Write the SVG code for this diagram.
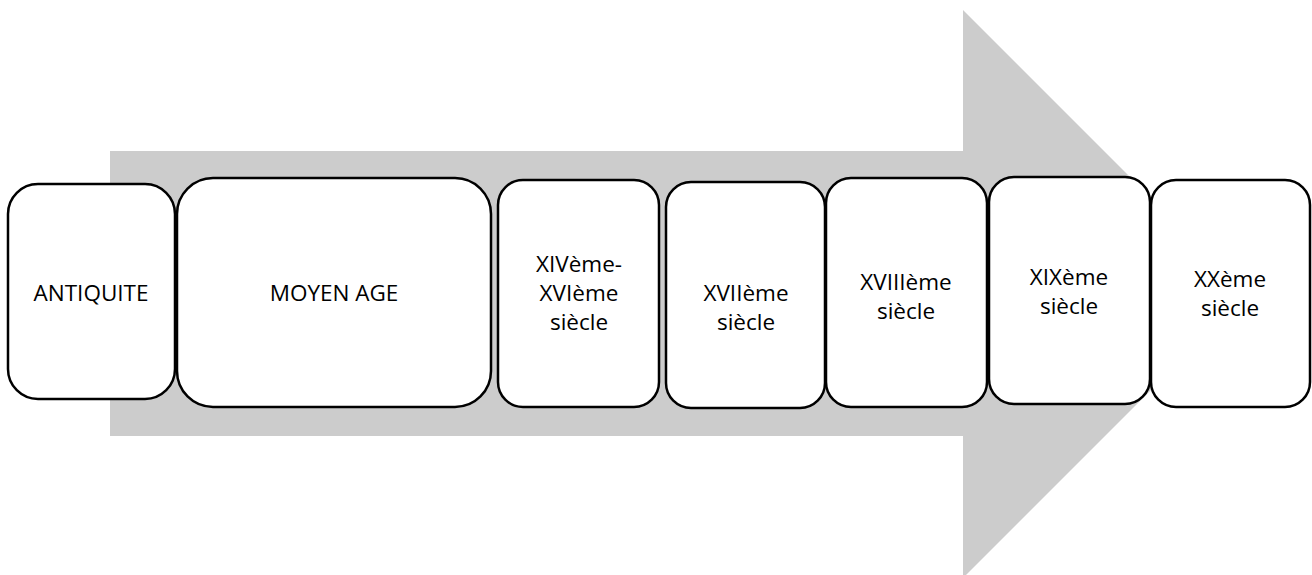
<svg xmlns="http://www.w3.org/2000/svg" width="1312" height="575" viewBox="0 0 1312 575">
<style>
.box{fill:#ffffff;stroke:#000000;stroke-width:2.5}
.lbl{font-family:"Open Sans","Noto Sans","Liberation Sans",sans-serif;font-size:22.5px;fill:#000000;text-anchor:middle}
</style>
<rect width="1312" height="575" fill="#ffffff"/>
<g id="arrow">
<polygon points="110,151 963,151 963,10 1247,294 963,578 963,436 110,436" fill="#cccccc"/>
</g>
<g id="connectors"></g>
<g id="n1"><rect class="box" x="8" y="184" width="167" height="215" rx="30"/><text class="lbl" x="91" y="301">ANTIQUITE</text></g>
<g id="n2"><rect class="box" x="177" y="178" width="314" height="229" rx="36"/><text class="lbl" x="334" y="301">MOYEN AGE</text></g>
<g id="n3"><rect class="box" x="498" y="180" width="161" height="227" rx="25"/><text class="lbl" x="579" y="272">XIVème-</text><text class="lbl" x="579" y="301">XVIème</text><text class="lbl" x="579" y="330">siècle</text></g>
<g id="n4"><rect class="box" x="666" y="182" width="159" height="226" rx="25"/><text class="lbl" x="746" y="301">XVIIème</text><text class="lbl" x="746" y="330">siècle</text></g>
<g id="n5"><rect class="box" x="826" y="178" width="161" height="229" rx="25"/><text class="lbl" x="906" y="290">XVIIIème</text><text class="lbl" x="906" y="319">siècle</text></g>
<g id="n6"><rect class="box" x="989" y="177" width="161" height="227" rx="25"/><text class="lbl" x="1069" y="285">XIXème</text><text class="lbl" x="1069" y="314">siècle</text></g>
<g id="n7"><rect class="box" x="1151" y="180" width="159" height="227" rx="25"/><text class="lbl" x="1230" y="287">XXème</text><text class="lbl" x="1230" y="316">siècle</text></g>
</svg>
